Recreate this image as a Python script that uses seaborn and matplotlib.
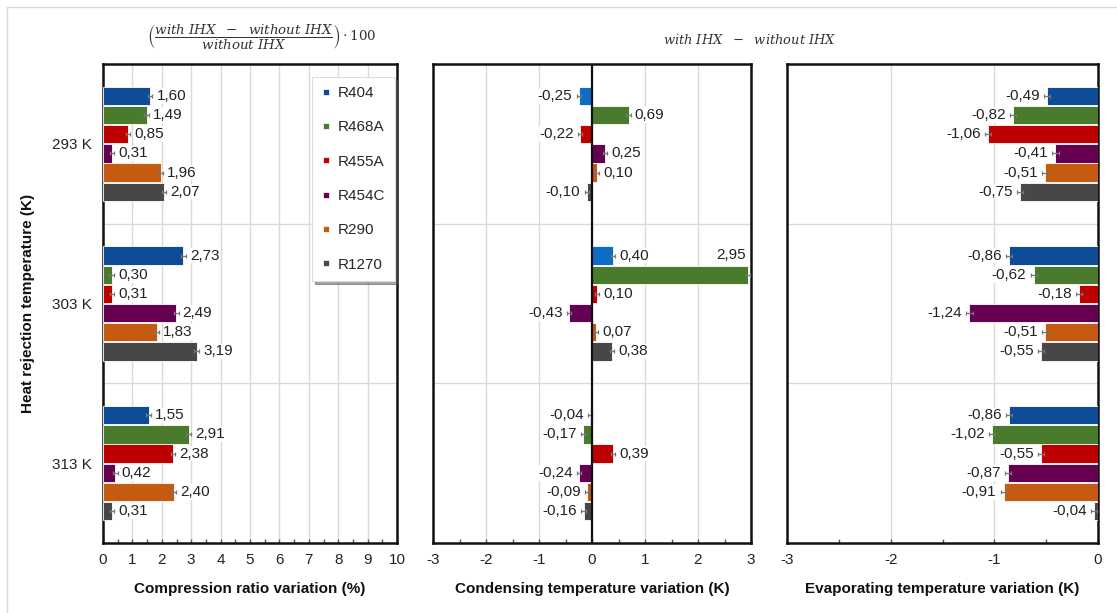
import matplotlib
matplotlib.use("Agg")
import matplotlib.pyplot as plt
from matplotlib.lines import Line2D
import seaborn as sns
import pandas as pd

# ---------------- data ----------------
temps = ["293 K", "303 K", "313 K"]
refrigerants = ["R404", "R468A", "R455A", "R454C", "R290", "R1270"]

# compression ratio variation (%), per refrigerant across temps
comp_R404 = [1.60, 2.73, 1.55]
comp_R468A = [1.49, 0.30, 2.91]
comp_R455A = [0.85, 0.31, 2.38]
comp_R454C = [0.31, 2.49, 0.42]
comp_R290 = [1.96, 1.83, 2.40]
comp_R1270 = [2.07, 3.19, 0.31]

# condensing temperature variation (K)
cond_R404 = [-0.25, 0.40, -0.04]
cond_R468A = [0.69, 2.95, -0.17]
cond_R455A = [-0.22, 0.10, 0.39]
cond_R454C = [0.25, -0.43, -0.24]
cond_R290 = [0.10, 0.07, -0.09]
cond_R1270 = [-0.10, 0.38, -0.16]

# evaporating temperature variation (K)
evap_R404 = [-0.49, -0.86, -0.86]
evap_R468A = [-0.82, -0.62, -1.02]
evap_R455A = [-1.06, -0.18, -0.55]
evap_R454C = [-0.41, -1.24, -0.87]
evap_R290 = [-0.51, -0.51, -0.91]
evap_R1270 = [-0.75, -0.55, -0.04]

# small uncertainty bars (estimated)
err_comp = [0.08, 0.08, 0.08, 0.08, 0.08, 0.08]
err_cond = [0.04, 0.04, 0.04, 0.04, 0.04, 0.04]
err_evap = [0.03, 0.03, 0.03, 0.03, 0.03, 0.03]

x_labels = ["Compression ratio variation (%)",
            "Condensing temperature variation (K)",
            "Evaporating temperature variation (K)"]


def long_df(series):
    rows = []
    for ref, vals in zip(refrigerants, series):
        for t, v in zip(temps, vals):
            rows.append({"temp": t, "refrigerant": ref, "value": v})
    return pd.DataFrame(rows)


df_comp = long_df([comp_R404, comp_R468A, comp_R455A, comp_R454C, comp_R290, comp_R1270])
df_cond = long_df([cond_R404, cond_R468A, cond_R455A, cond_R454C, cond_R290, cond_R1270])
df_evap = long_df([evap_R404, evap_R468A, evap_R455A, evap_R454C, evap_R290, evap_R1270])

pal_dark = ["#0E4C97", "#4A7A2C", "#BF0000", "#660050", "#C55A11", "#474747"]
pal_light = ["#0B6EC4", "#4A7A2C", "#BF0000", "#660050", "#C55A11", "#474747"]

# ---------------- style ----------------
sns.set_theme(style="white")
plt.rcParams["font.family"] = ["Liberation Sans", "DejaVu Sans"]
plt.rcParams["axes.unicode_minus"] = False
plt.rcParams["mathtext.fontset"] = "dejavuserif"

W, H = 1117, 613
fig = plt.figure(figsize=(W / 100, H / 100), dpi=100)
fig.patch.set_facecolor("white")


def px_axes(l, r, t, b):
    return fig.add_axes([l / W, 1 - b / H, (r - l) / W, (b - t) / H])


ax1 = px_axes(103, 397, 64, 543)
ax2 = px_axes(433, 751, 64, 543)
ax3 = px_axes(787, 1098, 64, 543)

panels = [
    (ax1, df_comp, pal_dark, err_comp, (0, 10), list(range(0, 11)), [i + 0.5 for i in range(10)]),
    (ax2, df_cond, pal_light, err_cond, (-3, 3), list(range(-3, 4)), [i + 0.5 for i in range(-3, 3)]),
    (ax3, df_evap, pal_dark, err_evap, (-3, 0), list(range(-3, 1)), [-2.5, -1.5, -0.5]),
]

FS = 11

for idx, (ax, df, pal, errs, xlim, xt, xminor) in enumerate(panels):
    sns.barplot(data=df, x="value", y="temp", hue="refrigerant",
                order=temps, hue_order=refrigerants, palette=pal,
                saturation=1, orient="h", width=0.72, gap=0.04,
                errorbar=None, edgecolor="white", linewidth=0.6,
                legend=False, ax=ax, zorder=3)
    ax.set_xlim(*xlim)
    ax.set_ylim(2.5, -0.5)
    ax.set_xticks(xt)
    ax.set_xticks(xminor, minor=True)
    ax.set_xticklabels([str(v) for v in xt], fontsize=FS, color="#222222")
    ax.set_yticks([0.5, 1.5], minor=True)
    ax.grid(True, axis="x", which="major", color="#D9D9D9", lw=1.0, zorder=0)
    ax.grid(True, axis="y", which="minor", color="#D9D9D9", lw=1.0, zorder=0)
    ax.tick_params(axis="x", which="both", direction="in", length=3,
                   width=1, color="#555555", pad=7, bottom=True)
    ax.tick_params(axis="y", which="both", length=0)
    for s in ax.spines.values():
        s.set_visible(True)
        s.set_color("#111111")
        s.set_linewidth(1.8)
    ax.set_xlabel(x_labels[idx], fontsize=FS, fontweight="bold",
                  color="#111111", labelpad=11)
    if idx == 0:
        ax.set_yticks(range(len(temps)))
        ax.set_yticklabels(temps, fontsize=FS, color="#222222")
        ax.tick_params(axis="y", which="major", pad=8)
        ax.set_ylabel("Heat rejection temperature (K)", fontsize=FS,
                      fontweight="bold", color="#111111", labelpad=12)
    else:
        ax.set_yticks(range(len(temps)))
        ax.set_yticklabels([])
        ax.set_ylabel("")
    if idx == 1:
        ax.axvline(0, color="#111111", lw=1.6, zorder=5)

    # error bars and value labels
    bar_containers = list(ax.containers)
    for hi, cont in enumerate(bar_containers):
        e = errs[hi]
        for bar in cont:
            val = bar.get_width()
            yc = bar.get_y() + bar.get_height() / 2
            ax.errorbar(val, yc, xerr=e, fmt="none", ecolor="#777777",
                        elinewidth=0.9, capsize=1.5, capthick=0.9, zorder=4)
            txt = f"{val:.2f}".replace(".", ",")
            if val + e + 0.3 > xlim[1] and val > 0:
                ax.annotate(txt, xy=(val, yc), xytext=(-2, 14),
                            textcoords="offset points", ha="right",
                            va="center", fontsize=FS, color="#222222",
                            zorder=6)
            elif val >= 0:
                ax.annotate(txt, xy=(val + e, yc), xytext=(3, 0),
                            textcoords="offset points", ha="left",
                            va="center", fontsize=FS, color="#222222",
                            zorder=6, bbox=dict(boxstyle="square,pad=0.05",
                                                fc="white", ec="none"))
            else:
                ax.annotate(txt, xy=(val - e, yc), xytext=(-3, 0),
                            textcoords="offset points", ha="right",
                            va="center", fontsize=FS, color="#222222",
                            zorder=6, bbox=dict(boxstyle="square,pad=0.05",
                                                fc="white", ec="none"))

# legend
handles = [Line2D([0], [0], marker="s", linestyle="none", markersize=5,
                  markerfacecolor=c, markeredgecolor="white", markeredgewidth=0.5)
           for c in pal_dark]
leg = ax1.legend(handles, refrigerants, loc="upper left",
                 bbox_to_anchor=(312 / W, 1 - 77 / H),
                 bbox_transform=fig.transFigure, fontsize=FS,
                 frameon=True, fancybox=False, shadow=True,
                 labelspacing=1.33, handlelength=0.6, handletextpad=0.5,
                 borderpad=0.6, borderaxespad=0)
leg.get_frame().set_edgecolor("#DDDDDD")
leg.get_frame().set_linewidth(0.8)
leg.set_zorder(10)

# titles (formula annotations)
fig.text(262 / W, 1 - 38 / H,
         r"$\left(\dfrac{with\ IHX\ \ -\ \ without\ IHX}{without\ IHX}\right)\cdot 100$",
         ha="center", va="center", fontsize=9.6, color="#333333")
fig.text(750 / W, 1 - 40 / H, r"$with\ IHX\ \ -\ \ without\ IHX$",
         ha="center", va="center", fontsize=9.4, color="#333333")

# faint outer frame
fig.add_artist(Line2D([7 / W, 1.0], [1 - 7 / H, 1 - 7 / H], color="#D9D9D9",
                      lw=1.0, transform=fig.transFigure))
fig.add_artist(Line2D([7 / W, 7 / W], [0, 1 - 7 / H], color="#D9D9D9",
                      lw=1.0, transform=fig.transFigure))

fig.savefig("out.png", dpi=100, facecolor="white")
